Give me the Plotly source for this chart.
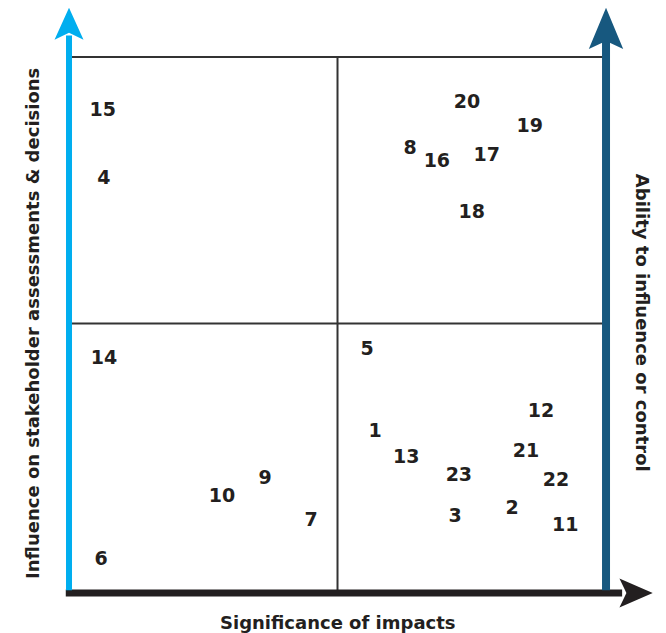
import plotly.graph_objects as go

# Issue positions (x: significance of impacts, y: influence on stakeholders), scale 0-10
labels = ["15", "4", "20", "19", "8", "16", "17", "18", "5", "14", "12", "1", "13",
          "21", "9", "23", "22", "10", "2", "3", "7", "11", "6"]
x_vals = [0.63, 0.65, 7.41, 8.58, 6.35, 6.85, 7.78, 7.50, 5.55, 0.65, 8.79, 5.70, 6.28,
          8.51, 3.65, 7.26, 9.07, 2.85, 8.25, 7.19, 4.51, 9.24, 0.60]
y_vals = [8.98, 7.71, 9.13, 8.68, 8.27, 8.03, 8.14, 7.08, 4.52, 4.37, 3.38, 2.99, 2.51,
          2.62, 2.13, 2.17, 2.08, 1.78, 1.57, 1.41, 1.33, 1.24, 0.62]

x_title = "Significance of impacts"
y_title = "Influence on stakeholder assessments & decisions"
y2_title = "Ability to influence or control"

LIGHT_BLUE = "#00AEEF"
DARK_BLUE = "#17587F"
BLACK = "#231F20"
GRID = "#333333"
FONT = "DejaVu Sans"

fig = go.Figure()
fig.add_trace(go.Scatter(
    x=x_vals, y=y_vals, mode="text", text=labels,
    textfont=dict(family=FONT, size=19, color=BLACK, weight=700),
    textposition="middle center", hoverinfo="skip", showlegend=False,
))

shapes = []
# quadrant frame
shapes.append(dict(type="line", x0=0, x1=10, y0=10, y1=10, line=dict(color=GRID, width=2)))
shapes.append(dict(type="line", x0=0, x1=10, y0=5.03, y1=5.03, line=dict(color=GRID, width=2)))
shapes.append(dict(type="line", x0=5, x1=5, y0=0, y1=10, line=dict(color=GRID, width=2)))
# bottom black axis + arrowhead
shapes.append(dict(type="line", x0=-0.06, x1=10.3, y0=0, y1=0, line=dict(color=BLACK, width=7)))
shapes.append(dict(type="path", path="M 10.25 0.27 L 10.87 0 L 10.25 -0.27 L 10.38 0 Z",
                   fillcolor=BLACK, line=dict(width=0)))
# left light-blue axis + arrowhead
shapes.append(dict(type="line", x0=0, x1=0, y0=0.05, y1=10.4, line=dict(color=LIGHT_BLUE, width=6)))
shapes.append(dict(type="path", path="M -0.27 10.32 L 0 10.92 L 0.27 10.32 L 0 10.45 Z",
                   fillcolor=LIGHT_BLUE, line=dict(width=0)))
# right dark-blue axis + arrowhead
shapes.append(dict(type="line", x0=10, x1=10, y0=0.05, y1=10.3, line=dict(color=DARK_BLUE, width=8)))
shapes.append(dict(type="path", path="M 9.68 10.15 L 10 10.92 L 10.32 10.15 L 10 10.3 Z",
                   fillcolor=DARK_BLUE, line=dict(width=0)))

annotations = [
    dict(text=x_title, x=5, y=-0.55, xref="x", yref="y", showarrow=False,
         font=dict(family=FONT, size=18, color=BLACK, weight=700)),
    dict(text=y_title, x=-0.67, y=5.02, xref="x", yref="y", showarrow=False, textangle=-90,
         font=dict(family=FONT, size=18, color=BLACK, weight=700)),
    dict(text=y2_title, x=10.67, y=5.04, xref="x", yref="y", showarrow=False, textangle=90,
         font=dict(family=FONT, size=18, color=BLACK, weight=700)),
]

fig.update_layout(
    width=666, height=633,
    margin=dict(l=0, r=0, t=0, b=0),
    paper_bgcolor="white", plot_bgcolor="white",
    shapes=shapes, annotations=annotations,
    xaxis=dict(range=[-1.285, 11.117], visible=False, fixedrange=True),
    yaxis=dict(range=[-0.746, 11.063], visible=False, fixedrange=True),
)

fig.write_html("out.html", config={"displayModeBar": False, "staticPlot": True})

# remove the browser's default page margin so the figure sits at the window origin
with open("out.html", "r", encoding="utf-8") as f:
    html = f.read()
html = html.replace("<head>", "<head><style>html,body{margin:0;padding:0;overflow:hidden;}</style>", 1)
with open("out.html", "w", encoding="utf-8") as f:
    f.write(html)
